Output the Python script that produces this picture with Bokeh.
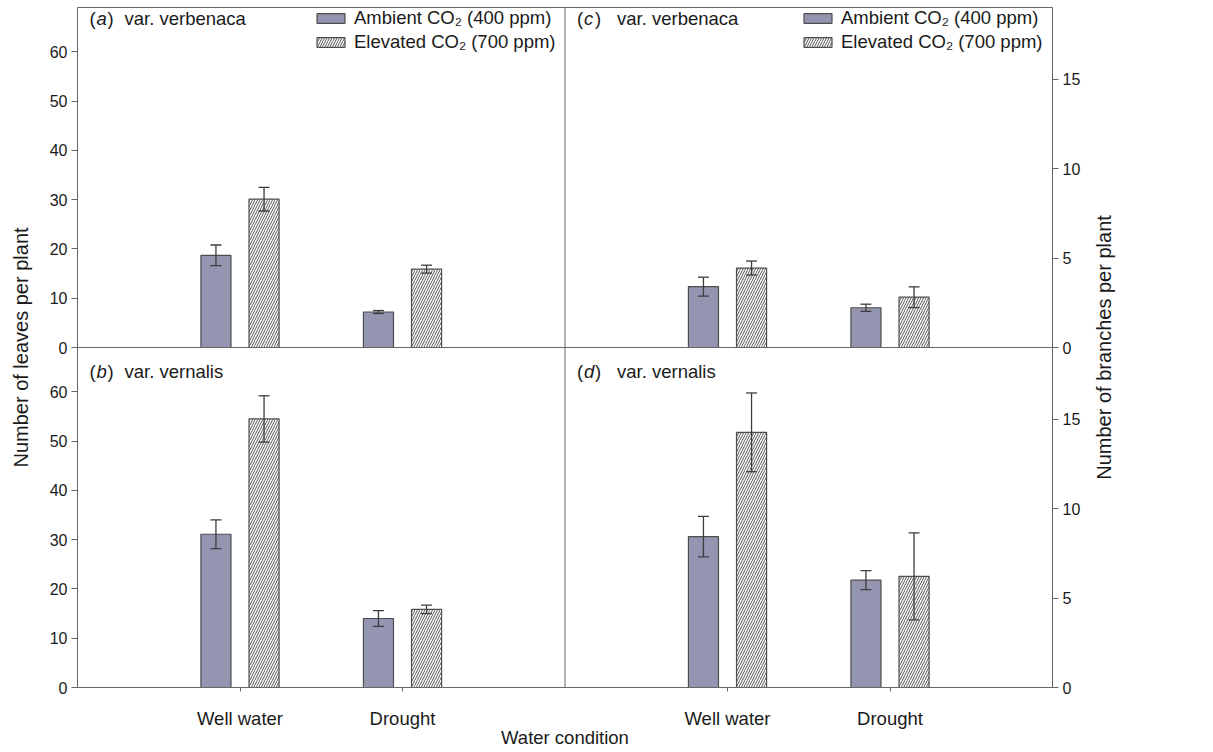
import math
from bokeh.plotting import figure
from bokeh.layouts import row
from bokeh.models import (ColumnDataSource, Range1d, LinearAxis, FixedTicker, Span, Label,
                          Legend, LegendItem, Whisker, TeeHead)
from bokeh.embed import file_html
from bokeh.resources import INLINE

# ---------------- data ----------------
conditions = ["Well water", "Drought"]
leaf_ticks = [0, 10, 20, 30, 40, 50, 60]
branch_ticks = [0, 5, 10, 15]
LEAF_SPAN = 69     # leaves-axis extent of one panel
BR_SPAN = 19       # branches-axis extent of one panel

# (a) var. verbenaca, leaves per plant
a_ambient = [18.7, 7.2]
a_ambient_se = [2.1, 0.3]
a_elevated = [30.1, 15.9]
a_elevated_se = [2.4, 0.8]
# (b) var. vernalis, leaves per plant
b_ambient = [31.1, 14.0]
b_ambient_se = [2.9, 1.6]
b_elevated = [54.5, 15.85]
b_elevated_se = [4.7, 0.85]
# (c) var. verbenaca, branches per plant
c_ambient = [3.4, 2.22]
c_ambient_se = [0.53, 0.2]
c_elevated = [4.44, 2.81]
c_elevated_se = [0.39, 0.58]
# (d) var. vernalis, branches per plant
d_ambient = [8.43, 6.0]
d_ambient_se = [1.13, 0.53]
d_elevated = [14.26, 6.21]
d_elevated_se = [2.2, 2.43]

label_ambient = "Ambient CO\u2082 (400 ppm)"
label_elevated = "Elevated CO\u2082 (700 ppm)"
branches_title = "Number of branches per plant"

# ---------------- style ----------------
FONT = "Liberation Sans"
AMB = "#9495b1"
EDGE = "#4d4d4d"
ERR = "#3d3d3d"
AXC = "#666666"
TXT = "#1a1a1a"
OFF = 0.148
BW = 0.185
H = 750
FRAME_H = 681
BORDER_T, BORDER_B = 7, 62

p = figure(width=1090, height=H, output_backend="svg", toolbar_location=None,
           x_range=Range1d(0, 6), y_range=Range1d(0, 2 * LEAF_SPAN),
           min_border_left=77, min_border_right=38,
           min_border_top=BORDER_T, min_border_bottom=BORDER_B)
p.extra_x_ranges = {"right": Range1d(-3, 3)}
p.extra_y_ranges = {"leaf_top": Range1d(-LEAF_SPAN, LEAF_SPAN),
                    "br_bottom": Range1d(0, 2 * BR_SPAN),
                    "br_top": Range1d(-BR_SPAN, BR_SPAN)}
p.grid.visible = False
p.outline_line_color = AXC
p.outline_line_width = 1
p.background_fill_color = "white"
p.border_fill_color = "white"

xs = [i + 1 for i in range(len(conditions))]


def style_axis(ax):
    ax.axis_line_color = AXC
    ax.major_tick_line_color = AXC
    ax.minor_tick_line_color = None
    ax.major_tick_out = 6
    ax.major_tick_in = 0
    ax.major_label_text_font = FONT
    ax.major_label_text_color = TXT
    ax.axis_label_text_font = FONT
    ax.axis_label_text_font_style = "normal"
    ax.axis_label_text_color = TXT


# left axis (leaves) — bottom panel ticks and top panel ticks
yax = p.yaxis[0]
style_axis(yax)
lt = leaf_ticks + [t + LEAF_SPAN for t in leaf_ticks]
yax.ticker = FixedTicker(ticks=lt)
yax.major_label_overrides = {**{t: str(t) for t in leaf_ticks},
                             **{t + LEAF_SPAN: str(t) for t in leaf_ticks}}
yax.major_label_text_font_size = "16px"
yax.major_label_standoff = 4
yax.axis_label = "Number of leaves per plant"
yax.axis_label_text_font_size = "20px"
yax.axis_label_standoff = 15

# bottom axis
xax = p.xaxis[0]
style_axis(xax)
xt = xs + [x + 3 for x in xs]
xax.ticker = FixedTicker(ticks=xt)
xax.major_label_overrides = {**{x: c for x, c in zip(xs, conditions)},
                             **{x + 3: c for x, c in zip(xs, conditions)}}
xax.major_tick_out = 4
xax.major_label_text_font_size = "18.5px"
xax.major_label_standoff = 16
xax.axis_label = "Water condition"
xax.axis_label_text_font_size = "18.5px"
xax.axis_label_standoff = -5

# right axis (branches)
rax = LinearAxis(y_range_name="br_bottom")
style_axis(rax)
bt = branch_ticks + [t + BR_SPAN for t in branch_ticks]
rax.ticker = FixedTicker(ticks=bt)
rax.major_label_overrides = {**{t: str(t) for t in branch_ticks},
                             **{t + BR_SPAN: str(t) for t in branch_ticks}}
rax.major_label_text_font_size = "16px"
rax.major_label_standoff = 4
p.add_layout(rax, "right")

# panel dividers
p.add_layout(Span(location=3, dimension="height", line_color=AXC, line_width=1))
p.add_layout(Span(location=LEAF_SPAN, dimension="width", line_color=AXC, line_width=1))


def draw_panel(amb, amb_se, elev, elev_se, xr, yr):
    src = ColumnDataSource(dict(
        xa=[x - OFF for x in xs], xe=[x + OFF for x in xs],
        amb=amb, elev=elev,
        amb_lo=[v - e for v, e in zip(amb, amb_se)], amb_hi=[v + e for v, e in zip(amb, amb_se)],
        elev_lo=[v - e for v, e in zip(elev, elev_se)], elev_hi=[v + e for v, e in zip(elev, elev_se)],
    ))
    r_amb = p.vbar(x="xa", top="amb", bottom=0, width=BW, source=src,
                   fill_color=AMB, line_color=EDGE, line_width=1.2,
                   x_range_name=xr, y_range_name=yr)
    r_elev = p.vbar(x="xe", top="elev", bottom=0, width=BW, source=src,
                    fill_color="white", line_color=EDGE, line_width=1.2,
                    hatch_pattern="/", hatch_color="#555555", hatch_scale=5, hatch_weight=1,
                    x_range_name=xr, y_range_name=yr)
    for base, lo, hi in (("xa", "amb_lo", "amb_hi"), ("xe", "elev_lo", "elev_hi")):
        w = Whisker(source=src, base=base, lower=lo, upper=hi, dimension="height",
                    line_color=ERR, line_width=1.3, level="overlay",
                    upper_head=TeeHead(size=11, line_color=ERR, line_width=1.3),
                    lower_head=TeeHead(size=11, line_color=ERR, line_width=1.3),
                    x_range_name=xr, y_range_name=yr)
        p.add_layout(w)
    return r_amb, r_elev


ra = draw_panel(a_ambient, a_ambient_se, a_elevated, a_elevated_se, "default", "leaf_top")
rb = draw_panel(b_ambient, b_ambient_se, b_elevated, b_elevated_se, "default", "default")
rc = draw_panel(c_ambient, c_ambient_se, c_elevated, c_elevated_se, "right", "br_top")
rd = draw_panel(d_ambient, d_ambient_se, d_elevated, d_elevated_se, "right", "br_bottom")


def add_legend(rs, xloc):
    leg = Legend(items=[LegendItem(label=label_ambient, renderers=[rs[0]]),
                        LegendItem(label=label_elevated, renderers=[rs[1]])],
                 location=(xloc, FRAME_H - 47), padding=0, margin=0, spacing=2,
                 glyph_width=35, glyph_height=12, label_height=20, label_standoff=6,
                 label_text_font=FONT, label_text_font_size="18.5px", label_text_color=TXT,
                 border_line_color=None, background_fill_alpha=0)
    p.add_layout(leg)


add_legend(ra, 236)
add_legend(rc, 723)


def panel_label(letter, name, xr, yr, x0, y0, dx, dy, gap):
    common = dict(x=x0, y=y0, x_range_name=xr, y_range_name=yr, y_offset=dy,
                  text_font=FONT, text_font_size="18.5px", text_color=TXT,
                  text_baseline="middle", text_align="left")
    p.add_layout(Label(text="(", x_offset=dx, **common))
    p.add_layout(Label(text=letter, x_offset=dx + 7, text_font_style="italic", **common))
    p.add_layout(Label(text=")", x_offset=dx + 18, **common))
    p.add_layout(Label(text=name, x_offset=dx + gap, **common))


panel_label("a", "var. verbenaca", "default", "leaf_top", 0, LEAF_SPAN, 12, -11, 35)
panel_label("b", "var. vernalis", "default", "default", 0, LEAF_SPAN, 12, -24, 35)
panel_label("c", "var. verbenaca", "right", "br_top", 0, BR_SPAN, 12, -11, 40)
panel_label("d", "var. vernalis", "right", "br_bottom", 0, BR_SPAN, 12, -24, 40)

# narrow companion figure carrying the shared right-hand title (reads bottom-to-top)
q = figure(width=34, height=H, output_backend="svg", toolbar_location=None,
           x_range=Range1d(0, 1), y_range=Range1d(0, 1),
           min_border_left=26, min_border_right=7,
           min_border_top=BORDER_T, min_border_bottom=BORDER_B)
q.grid.visible = False
q.outline_line_color = None
q.xaxis.visible = False
q.background_fill_color = "white"
q.border_fill_color = "white"
qax = q.yaxis[0]
qax.ticker = FixedTicker(ticks=[])
qax.axis_line_color = None
qax.major_tick_line_color = None
qax.minor_tick_line_color = None
qax.major_label_text_font_size = "0px"
qax.major_tick_out = 0
qax.major_label_standoff = 0
qax.axis_label = branches_title
qax.axis_label_text_font = FONT
qax.axis_label_text_font_style = "normal"
qax.axis_label_text_font_size = "20px"
qax.axis_label_text_color = TXT
qax.axis_label_standoff = 3

layout = row(p, q, spacing=0)
open("out.html", "w").write(file_html(layout, INLINE))
